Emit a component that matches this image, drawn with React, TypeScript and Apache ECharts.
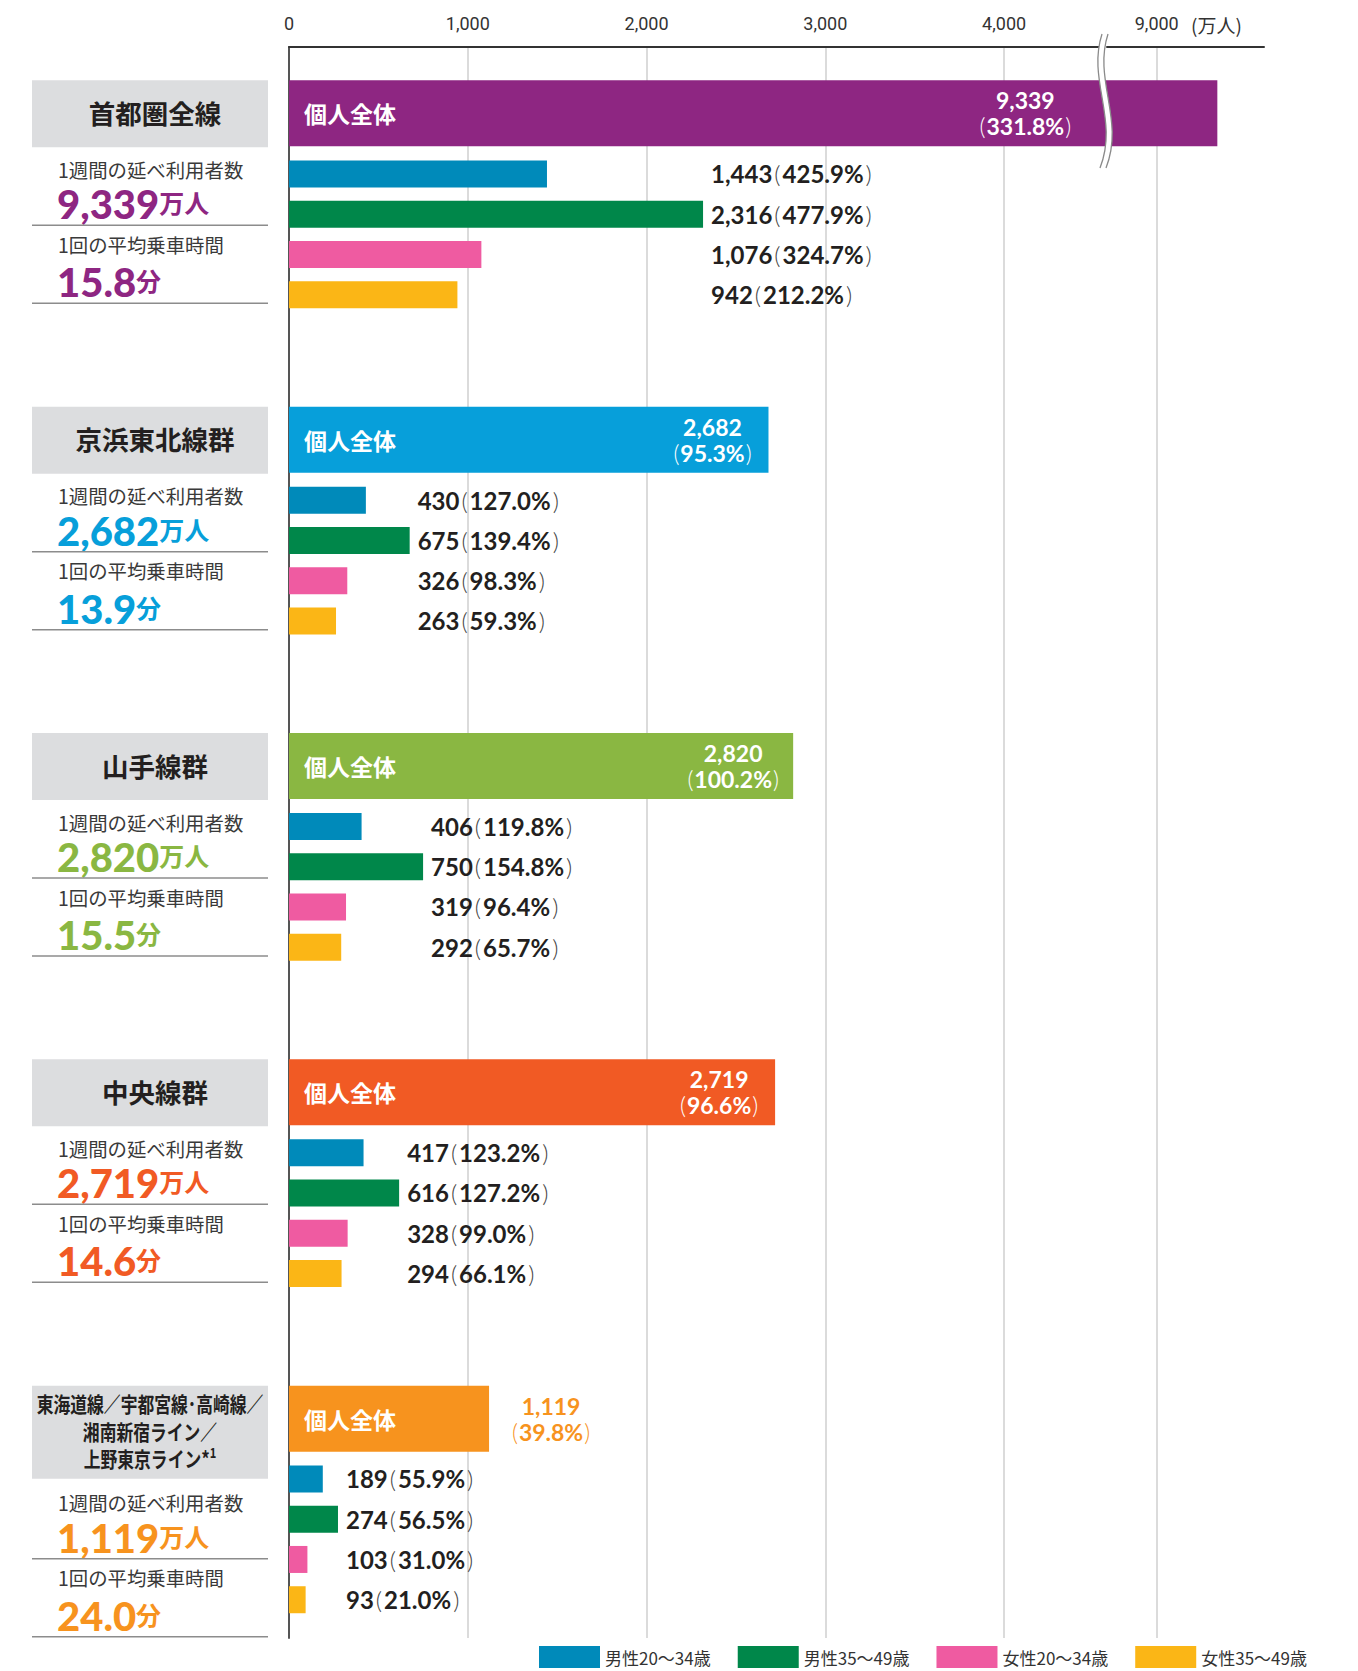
import React, { useEffect, useRef } from 'react';
import * as echarts from 'echarts';

// ---------- data ----------
const groupNames = [
  '首都圏全線',
  '京浜東北線群',
  '山手線群',
  '中央線群',
  '東海道線／宇都宮線･高崎線／\n湘南新宿ライン／\n上野東京ライン',
];
const groupFootnote = ['', '', '', '', '*1'];
const totalUsers = [9339, 2682, 2820, 2719, 1119];
const totalRatio = [331.8, 95.3, 100.2, 96.6, 39.8];
const avgTime = ['15.8', '13.9', '15.5', '14.6', '24.0'];
const segmentNames = ['男性20〜34歳', '男性35〜49歳', '女性20〜34歳', '女性35〜49歳'];
const segmentUsers = [
  [1443, 430, 406, 417, 189],
  [2316, 675, 750, 616, 274],
  [1076, 326, 319, 328, 103],
  [942, 263, 292, 294, 93],
];
const segmentRatio = [
  [425.9, 127.0, 119.8, 123.2, 55.9],
  [477.9, 139.4, 154.8, 127.2, 56.5],
  [324.7, 98.3, 96.4, 99.0, 31.0],
  [212.2, 59.3, 65.7, 66.1, 21.0],
];
const xTicks = [0, 1000, 2000, 3000, 4000, 9000];
const axisBreak = { start: 4530, end: 8720 };
const axisMax = 9600;
const weekLabel = '1週間の延べ利用者数';
const timeLabel = '1回の平均乗車時間';
const allLabel = '個人全体';
const unitUsers = '万人';
const unitTime = '分';
const axisUnit = '(万人)';

// ---------- styles ----------
const groupColors = ['#8E2682', '#079FDA', '#8AB742', '#F15A24', '#F7931E'];
const segmentColors = ['#008ABA', '#00874A', '#EF5BA1', '#FBB616'];
const valueLabelDistance = [192, 56, 60, 56, 62];

const GRID_LEFT = 289;
const GRID_TOP = 47;
const GRID_W = 975;
const GRID_H = 1591;
const MAIN_ROWS = 156;
const MAIN_PER_GROUP = 32;
const MAIN_OFFSET = 6;
const SUB_ROWS = 395;
const SUB_PER_GROUP = 81;
const SUB_OFFSET = 31;
const SUB_STEP = 10;

const CJK = '"Noto Sans CJK JP", sans-serif';
const NUM = 'Lato, "Noto Sans", sans-serif';

const fmt = (v: number) => v.toLocaleString('en-US');

function buildOption() {
  const mainCats = Array.from({ length: MAIN_ROWS }, (_, i) => 'm' + i);
  const subCats = Array.from({ length: SUB_ROWS }, (_, i) => 's' + i);

  const mainData: any[] = Array(MAIN_ROWS).fill('-');
  const mainValData: any[] = Array(MAIN_ROWS).fill('-');
  totalUsers.forEach((v, g) => {
    const row = g * MAIN_PER_GROUP + MAIN_OFFSET;
    mainData[row] = { value: v, itemStyle: { color: groupColors[g] } };
    const outside = g === 4;
    const c = outside ? groupColors[g] : '#ffffff';
    mainValData[row] = {
      value: v,
      label: {
        show: true,
        position: outside ? 'right' : 'insideRight',
        distance: valueLabelDistance[g],
        align: 'center',
        verticalAlign: 'middle',
        formatter: `{v|${fmt(v)}}\n{p|(}{v|${totalRatio[g].toFixed(1)}%}{p|)}`,
        rich: {
          v: { fontSize: 23, fontWeight: 700, fontFamily: NUM, color: c, lineHeight: 26 },
          p: { fontSize: 23, fontWeight: 300, fontFamily: NUM, color: c, lineHeight: 26, padding: [0, 1, 0, 1] },
        },
      },
    };
  });

  const subSeriesData: any[][] = segmentNames.map(() => Array(SUB_ROWS).fill('-'));
  const padData: any[] = Array(SUB_ROWS).fill('-');
  totalUsers.forEach((_, g) => {
    const gmax = Math.max(...segmentUsers.map((s) => s[g]));
    segmentUsers.forEach((s, si) => {
      const row = g * SUB_PER_GROUP + SUB_OFFSET + si * SUB_STEP;
      subSeriesData[si][row] = s[g];
      padData[row] = {
        value: gmax - s[g],
        label: {
          show: true,
          formatter: `{n|${fmt(s[g])}}{p|(}{n|${segmentRatio[si][g].toFixed(1)}%}{p|)}`,
        },
      };
    });
  });

  const series: any[] = [
    {
      type: 'bar',
      name: 'all',
      yAxisIndex: 0,
      barWidth: 66,
      barGap: '-100%',
      data: mainData,
      label: {
        show: true,
        position: 'insideLeft',
        distance: 15,
        formatter: allLabel,
        color: '#ffffff',
        fontSize: 23,
        fontWeight: 'bold',
        fontFamily: CJK,
      },
      z: 2,
    },
    {
      type: 'bar',
      name: 'allValue',
      yAxisIndex: 0,
      barWidth: 66,
      barGap: '-100%',
      data: mainValData,
      itemStyle: { color: 'rgba(0,0,0,0)' },
      z: 3,
    },
  ];
  segmentNames.forEach((n, si) => {
    series.push({
      type: 'bar',
      name: n,
      yAxisIndex: 1,
      barWidth: 27,
      stack: 'sub',
      data: subSeriesData[si],
      itemStyle: { color: segmentColors[si] },
    });
  });
  series.push({
    type: 'bar',
    name: 'pad',
    yAxisIndex: 1,
    barWidth: 27,
    stack: 'sub',
    data: padData,
    itemStyle: { color: 'rgba(0,0,0,0)' },
    label: {
      show: true,
      position: 'right',
      distance: 8,
      rich: {
        n: { fontSize: 24, fontWeight: 700, fontFamily: NUM, color: '#231F20' },
        p: { fontSize: 24, fontWeight: 300, fontFamily: NUM, color: '#444', padding: [0, 2, 0, 2] },
      },
    },
  });

  // ---------- left panel graphics ----------
  const q = GRID_H / MAIN_ROWS;
  const graphic: any[] = [];
  const numRich = (color: string) => ({
    n: { fontSize: 40, fontWeight: 900, fontFamily: NUM, fill: color },
    u: { fontSize: 25, fontWeight: 'bold', fontFamily: CJK, fill: color, padding: [0, 0, 4, 0] },
  });
  totalUsers.forEach((v, g) => {
    const center = GRID_TOP + (g * MAIN_PER_GROUP + MAIN_OFFSET + 0.5) * q;
    const top = center - 33;
    const multi = groupNames[g].includes('\n');
    const boxH = multi ? 93 : 67;
    const sh = multi ? 28 : 0;
    const color = groupColors[g];
    graphic.push({
      type: 'rect',
      shape: { x: 32, y: top, width: 236, height: boxH },
      style: { fill: '#DCDDDF' },
      silent: true,
    });
    if (multi) {
      const lines = groupNames[g].split('\n');
      lines.forEach((ln, li) => {
        const isLast = li === lines.length - 1;
        const fn = groupFootnote[g];
        graphic.push({
          type: 'text',
          x: 150,
          y: top + 17 + li * 27.5,
          scaleX: 0.8,
          style: {
            text: isLast && fn ? `{t|${ln}${fn.slice(0, 1)}}{s|${fn.slice(1)}}` : `{t|${ln}}`,
            align: 'center',
            verticalAlign: 'middle',
            rich: {
              t: { fontSize: 21, fontWeight: 'bold', fontFamily: CJK, fill: '#231F20', lineHeight: 26 },
              s: { fontSize: 14, fontWeight: 'bold', fontFamily: CJK, fill: '#231F20', verticalAlign: 'top', lineHeight: 16 },
            },
          },
          silent: true,
        });
      });
    } else {
      graphic.push({
        type: 'text',
        x: 155,
        y: top + 32,
        style: {
          text: groupNames[g],
          align: 'center',
          verticalAlign: 'middle',
          fontSize: 26.5,
          fontWeight: 'bold',
          fontFamily: CJK,
          fill: '#231F20',
        },
        silent: true,
      });
    }
    graphic.push({
      type: 'text',
      x: 58,
      y: top + 89 + sh,
      style: { text: weekLabel, align: 'left', verticalAlign: 'middle', fontSize: 19.4, fontFamily: CJK, fill: '#3a3a3a' },
      silent: true,
    });
    graphic.push({
      type: 'text',
      x: 57,
      y: top + 124 + sh,
      style: {
        text: `{n|${fmt(v)}}{u|${unitUsers}}`,
        align: 'left',
        verticalAlign: 'middle',
        rich: numRich(color),
      },
      silent: true,
    });
    graphic.push({
      type: 'line',
      shape: { x1: 32, y1: top + 145 + sh, x2: 268, y2: top + 145 + sh },
      style: { stroke: '#8c8c8c', lineWidth: 1.5 },
      silent: true,
    });
    graphic.push({
      type: 'text',
      x: 58,
      y: top + 164 + sh,
      style: { text: timeLabel, align: 'left', verticalAlign: 'middle', fontSize: 19.4, fontFamily: CJK, fill: '#3a3a3a' },
      silent: true,
    });
    graphic.push({
      type: 'text',
      x: 57,
      y: top + 202 + sh,
      style: {
        text: `{n|${avgTime[g]}}{u|${unitTime}}`,
        align: 'left',
        verticalAlign: 'middle',
        rich: numRich(color),
      },
      silent: true,
    });
    graphic.push({
      type: 'line',
      shape: { x1: 32, y1: top + 223 + sh, x2: 268, y2: top + 223 + sh },
      style: { stroke: '#8c8c8c', lineWidth: 1.5 },
      silent: true,
    });
  });

  // axis unit
  graphic.push({
    type: 'text',
    x: 1191,
    y: 24,
    style: { text: axisUnit, align: 'left', verticalAlign: 'middle', fontSize: 19, fontFamily: CJK, fill: '#333' },
    silent: true,
  });

  // break symbol
  const bz = (dx: number, stroke: string, w: number) => ({
    type: 'bezierCurve',
    z: 100,
    shape: { x1: 1105 + dx, y1: 34, cpx1: 1090 + dx, cpy1: 80, cpx2: 1122 + dx, cpy2: 120, x2: 1103 + dx, y2: 168 },
    style: { stroke, lineWidth: w, fill: null },
    silent: true,
  });
  graphic.push(bz(0, '#ffffff', 6));
  graphic.push(bz(-3, '#8a8a8a', 1.3));
  graphic.push(bz(3, '#8a8a8a', 1.3));

  return {
    animation: false,
    backgroundColor: '#ffffff',
    grid: { left: GRID_LEFT, top: GRID_TOP, width: GRID_W, height: GRID_H, containLabel: false, outerBoundsMode: 'none' },
    legend: {
      data: segmentNames,
      left: 539,
      top: 1646,
      padding: 0,
      icon: 'rect',
      itemWidth: 61,
      itemHeight: 22,
      itemGap: 27,
      selectedMode: false,
      textStyle: { fontSize: 17, color: '#333', fontFamily: CJK },
    },
    xAxis: {
      type: 'value',
      position: 'top',
      min: 0,
      max: axisMax,
      interval: 1000,
      breaks: [{ start: axisBreak.start, end: axisBreak.end, gap: '0.8%' }],
      breakArea: { show: false },
      axisLine: { show: true, lineStyle: { color: '#333', width: 2 } },
      axisTick: { show: false, customValues: xTicks },
      axisLabel: {
        customValues: xTicks,
        margin: 15,
        fontSize: 18,
        color: '#333',
        fontFamily: 'Roboto, sans-serif',
        formatter: (val: number) => fmt(val),
      },
      splitLine: { show: true, lineStyle: { color: '#cfcfcf', width: 1.5 } },
    },
    yAxis: [
      {
        type: 'category',
        data: mainCats,
        inverse: true,
        position: 'left',
        axisLine: { show: true, lineStyle: { color: '#555', width: 2 } },
        axisTick: { show: false },
        axisLabel: { show: false },
        splitLine: { show: false },
      },
      {
        type: 'category',
        data: subCats,
        inverse: true,
        position: 'left',
        show: false,
      },
    ],
    series,
    graphic,
  };
}

export default function App() {
  const ref = useRef<HTMLDivElement>(null);
  useEffect(() => {
    document.body.style.margin = '0';
    if (!ref.current) return;
    const chart = echarts.init(ref.current, undefined, { renderer: 'svg' });
    chart.setOption(buildOption() as any);
    return () => chart.dispose();
  }, []);
  return (
    <div
      ref={ref}
      style={{ position: 'absolute', left: 0, top: 0, width: 1358, height: 1671 }}
    />
  );
}
